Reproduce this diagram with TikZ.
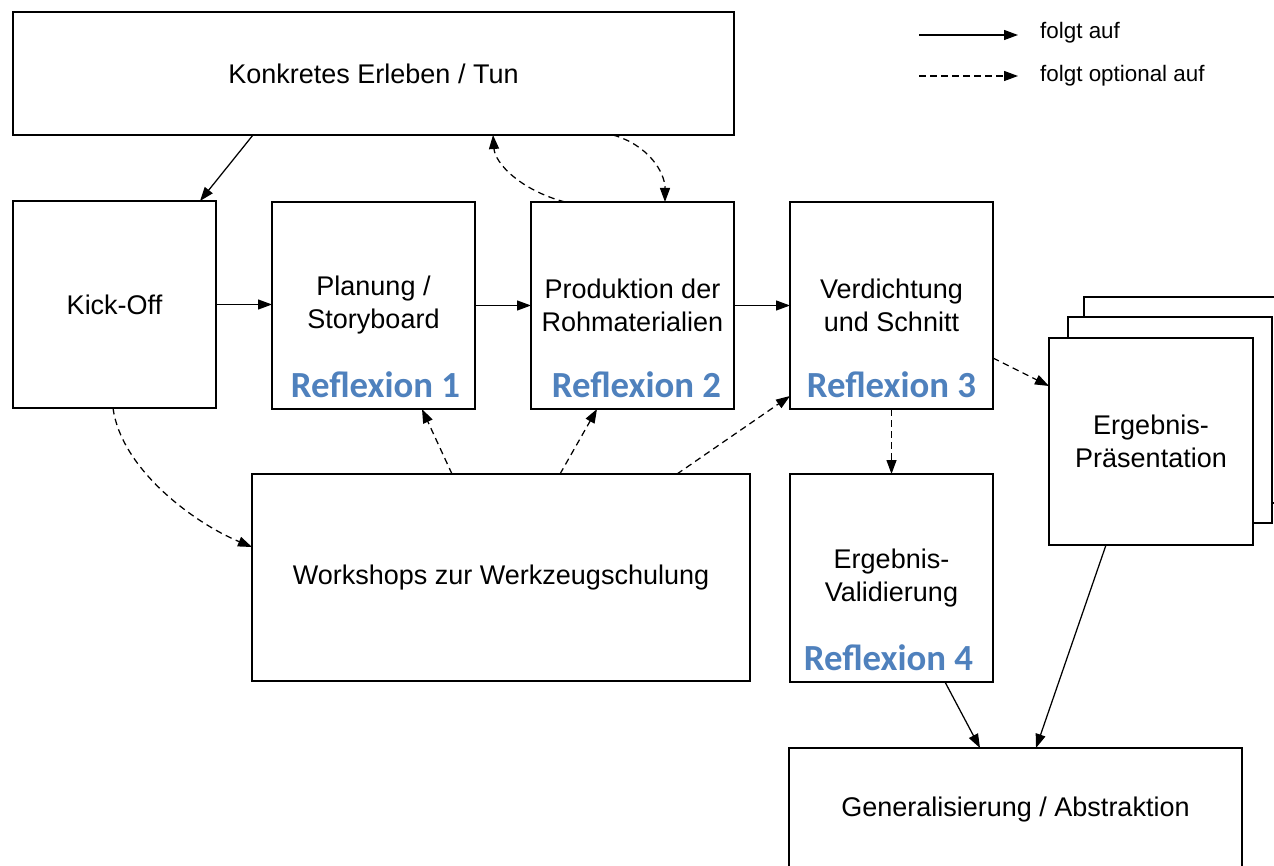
\documentclass[tikz,border=0pt]{standalone}
\usepackage{fontspec}
\setmainfont{Liberation Sans}
\newfontfamily\reflfont{Carlito}
\usetikzlibrary{arrows.meta}
\definecolor{reflblue}{HTML}{4F81BD}
\tikzset{
  box/.style={draw, line width=1.3pt, fill=white, outer sep=0pt, inner sep=2pt, align=center,
              font=\fontsize{27}{33}\selectfont},
  refl/.style={font=\reflfont\bfseries\fontsize{36.8}{40}\selectfont, text=reflblue, anchor=base, inner sep=0pt},
  conn/.style={line width=1.25pt, -{Triangle[length=14pt,width=10pt]}},
  opt/.style={conn, dash pattern=on 6.5pt off 4.5pt},
  legtext/.style={anchor=west, inner sep=0pt, font=\fontsize{22.4}{26}\selectfont}
}
\begin{document}
\begin{tikzpicture}[x=1pt,y=-1pt]
\useasboundingbox (0,0) rectangle (1274,866);
% boxes
\node[box, minimum width=721pt, minimum height=123pt] (konk) at (373.5,73.5) {Konkretes Erleben / Tun};
\node[box, minimum width=203pt, minimum height=207pt] (kick) at (114.5,304.5) {Kick-Off};
\node[box, minimum width=203pt, minimum height=207pt] (plan) at (373.5,305.5) {Planung /\\Storyboard};
\node[box, minimum width=203pt, minimum height=207pt] (prod) at (632.5,305.5) {Produktion der\\Rohmaterialien};
\node[box, minimum width=203pt, minimum height=207pt] (verd) at (891.5,305.5) {Verdichtung\\und Schnitt};
\node[box, minimum width=498pt, minimum height=207pt] (work) at (501,577.5) {Workshops zur Werkzeugschulung};
\node[box, minimum width=203pt, minimum height=208pt] (vali) at (891.5,578) {Ergebnis-\\Validierung};
\node[box, minimum width=206pt, minimum height=206pt] (presb2) at (1187,400) {};
\node[box, minimum width=204pt, minimum height=206pt] (presb1) at (1170,420) {};
\node[box, minimum width=204pt, minimum height=207pt] (pres) at (1151,441.5) {Ergebnis-\\Präsentation};
\node[box, minimum width=453pt, minimum height=124pt] (gen) at (1015.5,810) {Generalisierung / Abstraktion};
% reflexion labels
\node[refl] (r1) at ([xshift=2pt,yshift=12pt]plan.south) {Reflexion 1};
\node[refl] (r2) at ([xshift=4pt,yshift=12pt]prod.south) {Reflexion 2};
\node[refl] (r3) at ([yshift=12pt]verd.south) {Reflexion 3};
\node[refl] (r4) at ([xshift=-3pt,yshift=12pt]vali.south) {Reflexion 4};
% solid connectors
\draw[conn] ([xshift=-120.5pt]konk.south) -- ([xshift=85.5pt]kick.north);
\draw[conn] (kick.east) -- (kick.east -| plan.west);
\draw[conn] (plan.east) -- (prod.west);
\draw[conn] (prod.east) -- (verd.west);
\draw[conn] ([xshift=53.5pt]vali.south) -- ([xshift=-35.5pt]gen.north);
\draw[conn] ([xshift=-45pt]pres.south) -- ([xshift=20.5pt]gen.north);
% optional connectors
\draw[opt] ([xshift=-67.5pt]prod.north) .. controls +(-45,-12) and +(2,28) .. ([xshift=119.5pt]konk.south);
\draw[opt] ([xshift=239.5pt]konk.south) .. controls +(35,10) and +(0,-30) .. ([xshift=32.5pt]prod.north);
\draw[opt] ([xshift=-1.5pt]kick.south) .. controls +(8,60) and +(-60,-25) .. ([yshift=30.5pt]work.west);
\draw[opt] ([xshift=-49pt]work.north) -- ([xshift=48.5pt]plan.south);
\draw[opt] ([xshift=59pt]work.north) -- ([xshift=-35.5pt]prod.south);
\draw[opt] ([xshift=176pt]work.north) -- ([yshift=-90.5pt]verd.west);
\draw[opt] ([yshift=-52.5pt]verd.east) -- ([yshift=55.5pt]pres.west);
\draw[opt] (verd.south) -- (vali.north);
% legend
\coordinate (la1) at (919,35);
\coordinate (la2) at (1018,35);
\coordinate (lb1) at (919,76);
\coordinate (lb2) at (1018,76);
\draw[conn] (la1) -- (la2);
\draw[opt] (lb1) -- (lb2);
\node[legtext] (lta) at (1040,33) {folgt auf};
\node[legtext] (ltb) at (1040,76) {folgt optional auf};
\end{tikzpicture}
\end{document}
